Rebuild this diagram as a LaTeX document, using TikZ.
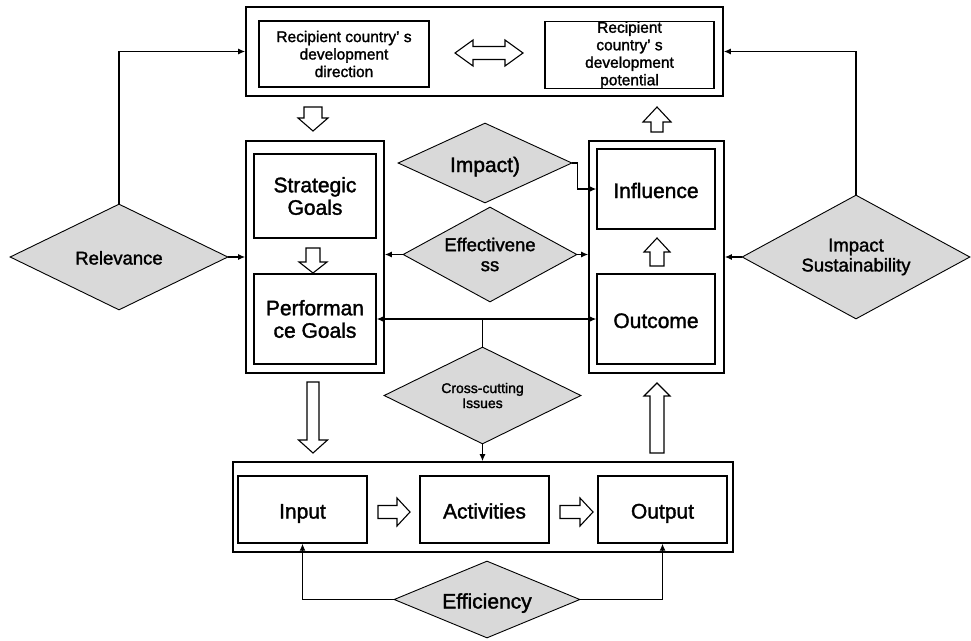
\documentclass[tikz,border=0pt]{standalone}
\usepackage{fontspec}
\setmainfont{Liberation Sans}[BoldFont={Liberation Sans}, BoldFeatures={FakeBold=1.6}]
\usetikzlibrary{shapes.geometric,arrows.meta}
\definecolor{critgray}{RGB}{217,217,217}

% hollow block arrows: vertical (x, tail y, tip y, shaft half, head half, head length toward tip)
\newcommand\vblock[6]{%
  \draw[hollow] ({#1-#4},#2) -- ({#1+#4},#2) -- ({#1+#4},{#3-(#6)}) -- ({#1+#5},{#3-(#6)})
    -- (#1,#3) -- ({#1-#5},{#3-(#6)}) -- ({#1-#4},{#3-(#6)}) -- cycle;}
% horizontal (y, tail x, tip x, shaft half, head half, head length toward tip)
\newcommand\hblock[6]{%
  \draw[hollow] (#2,{#1-#4}) -- (#2,{#1+#4}) -- ({#3-(#6)},{#1+#4}) -- ({#3-(#6)},{#1+#5})
    -- (#3,#1) -- ({#3-(#6)},{#1-#5}) -- ({#3-(#6)},{#1-#4}) -- cycle;}

\tikzset{
  frame/.style={draw, line width=1.6pt, rectangle, inner sep=0pt},
  box/.style={draw, line width=1.4pt, rectangle, inner sep=0pt, align=center},
  crit/.style={draw, line width=0.9pt, diamond, fill=critgray, inner sep=0pt,
    shape aspect=2, align=center},
  conn/.style={line width=1.2pt, -{Latex[length=7pt,width=6pt]}},
  biconn/.style={line width=1.2pt, {Latex[length=7pt,width=6pt]}-{Latex[length=7pt,width=6pt]}},
  link/.style={line width=1.2pt},
  hollow/.style={draw, line width=1.1pt, fill=white, line join=miter},
  lineL/.style={text height=20pt, text depth=2pt},
  lineM/.style={text height=17pt, text depth=2pt},
  txtL/.style={font=\fontsize{21}{22.5}\selectfont\bfseries},
  txtM/.style={font=\fontsize{18.5}{20}\selectfont\bfseries},
  txtS/.style={font=\fontsize{15.5}{17.5}\selectfont\bfseries},
  txtXS/.style={font=\fontsize{14}{15}\selectfont\bfseries},
}

\begin{document}
\begin{tikzpicture}[x=1pt, y=-1pt]
\fill[white] (0,0) rectangle (971,640);
\useasboundingbox (0,0) rectangle (971,640);

% top band: recipient country
\node[frame, minimum width=477, minimum height=89] (top) at (484.5,51.5) {};
\node[box, txtS, minimum width=170, minimum height=66] (dir) at (344,54)
  {Recipient country’ s\\development\\direction};
\node[box, txtS, minimum width=169, minimum height=66] (pot) at (629.5,55)
  {Recipient\\country’ s\\development\\potential};
\draw[hollow] (455,53) -- (473,40) -- (473,46.5) -- (505,46.5) -- (505,40) -- (523,53)
  -- (505,66) -- (505,59.5) -- (473,59.5) -- (473,66) -- cycle;

% goals column
\node[frame, minimum width=138, minimum height=232] (goals) at (315,257) {};
\node[box, txtL, minimum width=122, minimum height=84] (strat) at (315,196) {Strategic\\Goals};
\node[box, txtL, minimum width=122, minimum height=90] (perf) at (315,319) {Performan\\ce Goals};

% results column
\node[frame, minimum width=135, minimum height=232] (results) at (656.5,257) {};
\node[box, txtL, lineL, minimum width=118, minimum height=80] (infl) at (656,189) {Influence};
\node[box, txtL, lineL, minimum width=118, minimum height=90] (outc) at (656,319) {Outcome};

% implementation band
\node[frame, minimum width=500, minimum height=90] (impl) at (483,507) {};
\node[box, txtL, lineL, minimum width=129, minimum height=67] (input) at (302.5,509.5) {Input};
\node[box, txtL, lineL, minimum width=129, minimum height=67] (act) at (484.5,509.5) {Activities};
\node[box, txtL, lineL, minimum width=129, minimum height=67] (output) at (662.5,509.5) {Output};

% evaluation criteria
\node[crit, txtM, lineM, minimum width=218, minimum height=106] (rel) at (119,257) {Relevance};
\node[crit, txtL, lineL, minimum width=174, minimum height=80] (imp) at (485,163) {Impact)};
\node[crit, txtM, minimum width=174, minimum height=95] (eff) at (490,254.5) {Effectivene\\ss};
\node[crit, txtXS, minimum width=197, minimum height=97] (cross) at (482.5,395.5) {Cross-cutting\\Issues};
\node[crit, txtM, minimum width=228, minimum height=124] (sus) at (856,257) {Impact\\Sustainability};
\node[crit, txtL, lineL, minimum width=186, minimum height=77] (effi) at (487,599.5) {Efficiency};

% hollow flow arrows
\vblock{313}{107}{131}{9}{15}{13}
\vblock{657}{132}{107}{6}{14}{-15}
\vblock{313}{248}{273}{7}{14}{11}
\vblock{657}{266}{238}{7}{13}{-14}
\vblock{313}{382}{453}{6}{14.5}{13}
\vblock{657}{453}{383}{7}{13}{-13}
\hblock{512}{378}{410}{6.5}{14}{13}
\hblock{512}{560}{593}{6.5}{14}{13}

% connectors
\draw[conn] (rel.north) |- (top.west);
\draw[conn] (sus.north) |- (top.east);
\draw[conn] (rel.east) -- (rel.east -| goals.west);
\draw[conn] (sus.west) -- (sus.west -| results.east);
\draw[conn] (eff.west) -- (eff.west -| goals.east);
\draw[conn] (eff.east) -- (eff.east -| results.west);
\draw[conn] (imp.east) -- ++(5,0) |- (infl.west);
\draw[biconn] (perf.east) -- (outc.west);
\draw[link] (cross.north) -- (cross.north |- perf.east);
\draw[conn] (cross.south) -- (cross.south |- impl.north);
\draw[conn] (effi.west) -| (input.south);
\draw[conn] (effi.east) -| (output.south);
\end{tikzpicture}
\end{document}
